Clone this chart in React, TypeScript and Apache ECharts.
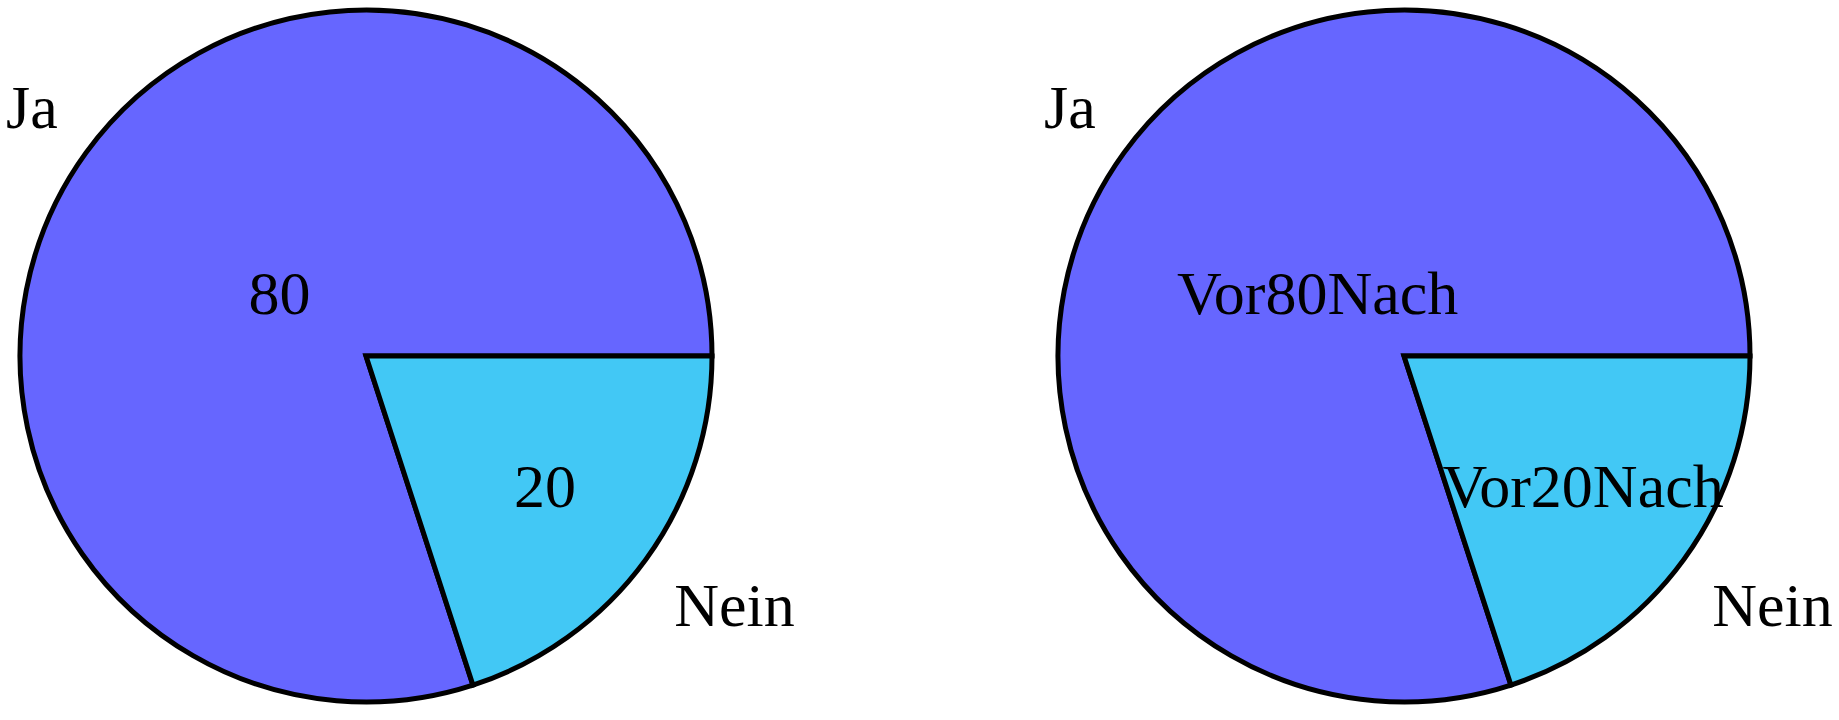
import React, { useEffect, useRef } from "react";
import * as echarts from "echarts";

const categories = ["Ja", "Nein"];
const values = [80, 20];
const innerPrefix = ["", "Vor"];
const innerSuffix = ["", "Nach"];
const sliceColors = ["#6666FF", "#42C8F5"];

const centersX = [366, 1404];
const centerY = 356;
const R = 346;
const FONT = "Liberation Serif";
const FS = 62;

function buildSeries(pieIdx: number) {
  const center = [centersX[pieIdx], centerY];
  const base = {
    type: "pie",
    center,
    startAngle: 0,
    clockwise: false,
    avoidLabelOverlap: false,
    animation: false,
  };
  const main = {
    ...base,
    radius: [0, R],
    itemStyle: { borderColor: "#000", borderWidth: 5, borderJoin: "miter" },
    emphasis: { disabled: true },
    silent: true,
    labelLine: { show: false, length: 35, length2: 0 },
    data: categories.map((c, i) => ({
      name: c,
      value: values[i],
      itemStyle: { color: sliceColors[i] },
      label: {
        show: true,
        position: "outside",
        alignTo: "none",
        distanceToLabelLine: 0,
        formatter: i === 0 ? "{t|{b}}\n{g| }" : "{g| }\n{t|{b}}",
        rich: {
          t: { color: "#000", fontFamily: FONT, fontSize: FS, lineHeight: 70 },
          g: { fontSize: 1, lineHeight: 50 },
        },
      },
    })),
  };
  const fmt = `${innerPrefix[pieIdx]}{c}${innerSuffix[pieIdx]}`;
  const overlay = (rMid: number, showIdx: number) => ({
    ...base,
    radius: [rMid - 10, rMid + 10],
    silent: true,
    emphasis: { disabled: true },
    z: 5,
    itemStyle: { color: "rgba(0,0,0,0)", borderWidth: 0 },
    labelLine: { show: false },
    label: {
      position: "inside",
      formatter: fmt,
      color: "#000",
      fontFamily: FONT,
      fontSize: FS,
    },
    data: categories.map((c, i) => ({
      name: c,
      value: values[i],
      label: { show: i === showIdx },
    })),
  });
  return [main, overlay(0.3 * R, 0), overlay(0.631 * R, 1)];
}

export default function App() {
  const ref = useRef<HTMLDivElement>(null);
  useEffect(() => {
    if (!ref.current) return;
    const chart = echarts.init(ref.current, null, { renderer: "svg" });
    chart.setOption({
      animation: false,
      backgroundColor: "#fff",
      series: [...buildSeries(0), ...buildSeries(1)],
    });
    return () => chart.dispose();
  }, []);
  return (
    <div
      ref={ref}
      style={{ position: "fixed", left: 0, top: 0, width: 1839, height: 720 }}
    />
  );
}
